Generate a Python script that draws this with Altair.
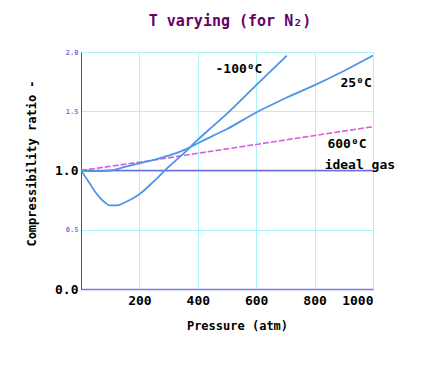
import altair as alt
import pandas as pd

# ---- data ----
p_m100 = [0, 25, 50, 75, 100, 125, 150, 200, 250, 300, 350, 400, 450, 500, 600, 705]
z_m100 = [1.00, 0.91, 0.815, 0.745, 0.705, 0.705, 0.73, 0.80, 0.91, 1.03, 1.14, 1.26, 1.37, 1.48, 1.72, 1.97]

p_25 = [0, 50, 100, 150, 200, 250, 300, 350, 400, 450, 500, 600, 700, 800, 900, 1000]
z_25 = [1.00, 0.995, 1.00, 1.03, 1.06, 1.09, 1.125, 1.17, 1.23, 1.29, 1.35, 1.49, 1.61, 1.72, 1.84, 1.97]

p_600 = [0, 200, 400, 600, 800, 1000]
z_600 = [1.00, 1.07, 1.145, 1.22, 1.295, 1.37]

p_ideal = [0, 1000]
z_ideal = [1.0, 1.0]

label_text = ["-100\u2070C", "25\u2070C", "600\u2070C", "ideal gas"]
label_p = [541, 942, 911, 955]
label_z = [1.86, 1.74, 1.22, 1.05]

x_ticks = [200, 400, 600, 800, 1000]
y_ticks = [0, 0.5, 1.0, 1.5, 2.0]

blue_df = pd.concat([
    pd.DataFrame({"P": p_m100, "Z": z_m100, "series": "-100"}),
    pd.DataFrame({"P": p_25, "Z": z_25, "series": "25"}),
])
hot_df = pd.DataFrame({"P": p_600, "Z": z_600})
ideal_df = pd.DataFrame({"P": p_ideal, "Z": z_ideal})
lab_df = pd.DataFrame({"P": label_p, "Z": label_z, "t": label_text})

FONT = "DejaVu Sans Mono"

xs = alt.Scale(domain=[0, 1000], nice=False)
ys = alt.Scale(domain=[0, 2.0], nice=False)

xax = alt.Axis(values=x_ticks, format="d", title="Pressure (atm)", grid=True, gridColor="#aef2fa",
               gridWidth=1, ticks=False, domainColor="#7a7ae0", domainWidth=1.5,
               labelFont=FONT, labelFontSize=13, labelFontWeight="bold", labelColor="black",
               labelPadding=5, titleFont=FONT, titleFontSize=12, titleFontWeight="bold",
               titleColor="black", titleX=156, titleY=36, titleBaseline="middle")
yax = alt.Axis(values=y_ticks, title="Compressibility ratio -", grid=True, gridColor="#aef2fa",
               gridWidth=1, ticks=False, domainColor="#555566", domainWidth=1,
               labelFont=FONT, labelFontWeight="bold",
               labelFontSize={"condition": {"test": "datum.value === 0 || datum.value === 1", "value": 13}, "value": 7},
               labelColor={"condition": {"test": "datum.value === 0 || datum.value === 1", "value": "black"}, "value": "#8070e0"},
               labelPadding=3, format=".1f",
               titleFont=FONT, titleFontSize=12, titleFontWeight="bold", titleColor="black",
               titleX=-50, titleY=111, titleBaseline="middle")

blue = alt.Chart(blue_df).mark_line(strokeWidth=1.8, interpolate="monotone", clip=True).encode(
    x=alt.X("P:Q", scale=xs, axis=xax),
    y=alt.Y("Z:Q", scale=ys, axis=yax),
    detail="series:N",
    color=alt.value("#4d94ea"),
)
hot = alt.Chart(hot_df).mark_line(strokeWidth=1.6, strokeDash=[6, 2], color="#d85fdc").encode(
    x=alt.X("P:Q", scale=xs), y=alt.Y("Z:Q", scale=ys)
)
ideal = alt.Chart(ideal_df).mark_line(strokeWidth=1.6, color="#6a72e0").encode(
    x=alt.X("P:Q", scale=xs), y=alt.Y("Z:Q", scale=ys)
)
labels = alt.Chart(lab_df).mark_text(font=FONT, fontSize=13, fontWeight="bold", color="black").encode(
    x=alt.X("P:Q", scale=xs), y=alt.Y("Z:Q", scale=ys), text="t:N"
)

chart = alt.layer(ideal, hot, blue, labels).properties(
    width=292, height=237,
    title=alt.TitleParams("T varying (for N\u2082)", font=FONT, fontSize=15, fontWeight="bold",
                          color="#660066", anchor="middle", offset=19, dx=3),
    autosize=alt.AutoSizeParams(type="none"),
    padding={"left": 73, "top": 44, "right": 40, "bottom": 60},
).configure_view(stroke=None).configure(background="white")

chart.save("out.html", embed_options={"renderer": "svg", "actions": False})
